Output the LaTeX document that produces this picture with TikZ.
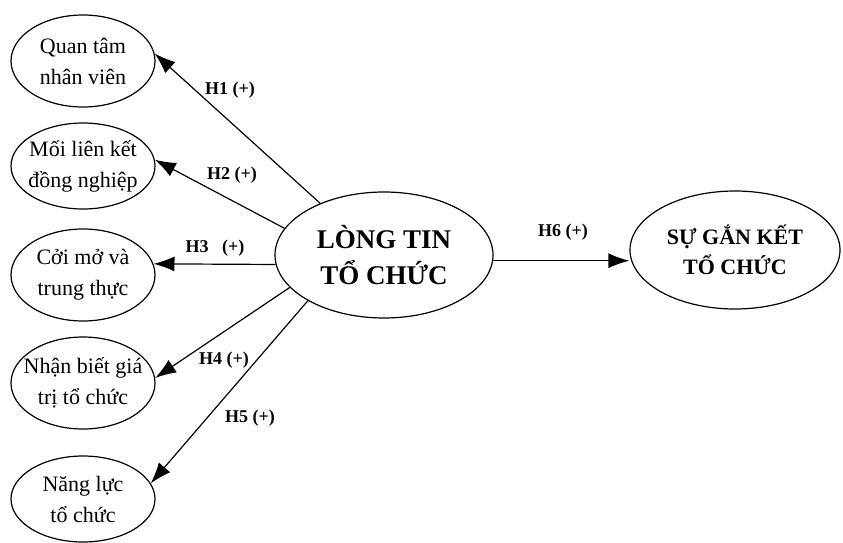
\documentclass[tikz,border=0pt]{standalone}
\usepackage{fontspec}
\setmainfont{Liberation Serif}
\usetikzlibrary{shapes.geometric,arrows.meta}
\tikzset{
  ell/.style={draw, ellipse, line width=1.2pt, inner sep=0pt},
  small/.style={ell, minimum width=144pt, minimum height=92pt},
  etext/.style={align=center, font=\fontsize{22}{31}\selectfont},
  ctext/.style={align=center, font=\bfseries\fontsize{27}{36}\selectfont},
  rtext/.style={align=center, font=\bfseries\fontsize{22}{30}\selectfont},
  lab/.style={font=\bfseries\fontsize{18}{20}\selectfont, inner sep=0pt},
  arr/.style={line width=1.2pt, -{Latex[length=21pt,width=15pt]}}
}
\begin{document}
\begin{tikzpicture}[x=1pt,y=-1pt]
\useasboundingbox (0,0) rectangle (843,543);
\fill[white] (0,0) rectangle (843,543);

\node[small, label={[etext]center:Quan tâm\\nhân viên}] (e1) at (83,61) {};
\node[small, minimum height=86pt, label={[etext]center:Mối liên kết\\đồng nghiệp}] (e2) at (83,166) {};
\node[small, label={[etext]center:Cởi mở và\\trung thực}] (e3) at (83,275) {};
\node[small, label={[etext]center:Nhận biết giá\\trị tổ chức}] (e4) at (83,383) {};
\node[small, minimum height=86pt, label={[etext]center:Năng lực\\tổ chức}] (e5) at (83,499) {};

\node[ell, minimum width=218pt, minimum height=126pt, label={[ctext]center:LÒNG TIN\\TỔ CHỨC}] (c) at (384,255) {};
\node[ell, minimum width=210pt, minimum height=118pt, label={[rtext]center:SỰ GẮN KẾT\\TỔ CHỨC}] (r) at (735,250) {};

\draw[arr] (c.141) -- (e1.6);
\draw[arr] (c.165) -- (e2.5);
\draw[arr] (c.185) -- (e3.9);
\draw[arr] (c.199) -- (e4.4);
\draw[arr] (c.211) -- (e5.13);
\draw[arr] (c.357) -- (r.west |- c.357);

\node[lab] (l1) at (230,90) {H1 (+)};
\node[lab] (l2) at (232,175) {H2 (+)};
\node[lab] (l3) at (215,248) {H3\ \ \ (+)};
\node[lab] (l4) at (224,360) {H4 (+)};
\node[lab] (l5) at (250,418) {H5 (+)};
\node[lab] (l6) at (563,232) {H6 (+)};
\end{tikzpicture}
\end{document}
